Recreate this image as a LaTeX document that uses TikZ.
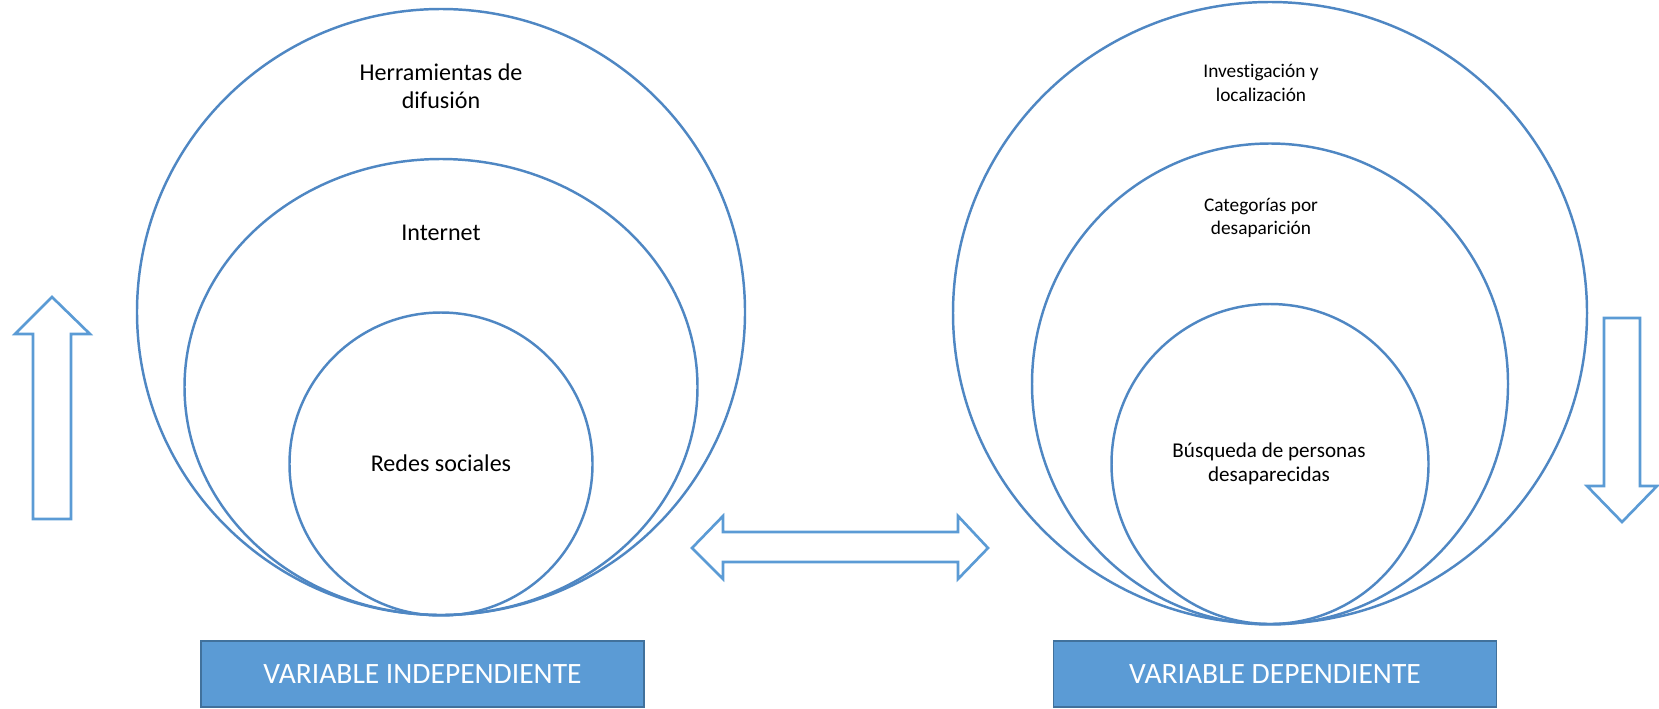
\documentclass[tikz,border=0pt]{standalone}
\usepackage{fontspec}
\setmainfont{Carlito}[Ligatures=NoCommon]
\usetikzlibrary{positioning}
\definecolor{ringblue}{HTML}{4F87C3}
\definecolor{arrowblue}{HTML}{5B9BD5}
\definecolor{boxfill}{HTML}{5B9BD5}
\definecolor{boxline}{HTML}{41719C}
\tikzset{ring/.style={draw=ringblue,line width=1.4pt},
         blockarrow/.style={draw=arrowblue,line width=1.5pt,line join=miter},
         caption/.style={align=center,font=\fontsize{13.7}{16}\selectfont,inner sep=0pt},
         smallcaption/.style={caption,font=\fontsize{11}{13.3}\selectfont},
         varbox/.style={draw=boxline,line width=1pt,fill=boxfill,text=white,
                        minimum width=443*0.02cm,minimum height=66*0.02cm,
                        font=\fontsize{16.8}{19}\selectfont},
        }

\begin{document}
\begin{tikzpicture}[x=0.02cm,y=-0.02cm]
        \useasboundingbox (0,0) rectangle (1659,708);

        \draw[ring](441,312) ellipse [x radius=304, y radius=303];
        \draw[ring](441,387) ellipse [x radius=256.5, y radius=228];
        \draw[ring](441,464) ellipse [x radius=151.5, y radius=151.5];
        \draw[ring](1270,313) ellipse [x radius=317, y radius=311];
        \draw[ring](1270,384) ellipse [x radius=238, y radius=240.5];
        \draw[ring](1270,464) ellipse [x radius=158.5, y radius=160];

        \node[caption](herr)at(441,86){Herramientas de\\difusión};
        \node[caption](inter)at(441,233){Internet};
        \node[caption](redes)at(441,463){Redes sociales};
        \node[smallcaption](invest)at(1261,83){Investigación y\\localización};
        \node[smallcaption](categ)at(1261,218){Categorías por\\desaparición};
        \node[smallcaption,font=\fontsize{12}{13.6}\selectfont](busq)at(1269,464){Búsqueda de personas\\desaparecidas};

        \draw[blockarrow](52,297)--(90,334)--(71,334)--(71,519)--(33,519)--(33,334)--(15,334)--cycle;
        \draw[blockarrow](1604,318)--(1640,318)--(1640,486)--(1657,486)--(1622,522)--(1587,486)--(1604,486)--cycle;
        \draw[blockarrow](692,548)--(723,516)--(723,532)--(958,532)--(958,516)--(988,548)
                         --(958,579)--(958,562)--(723,562)--(723,579)--cycle;

        \node[varbox](varind)at(422.5,674){VARIABLE INDEPENDIENTE};
        \node[varbox](vardep)at(1275,674){VARIABLE DEPENDIENTE};
    \end{tikzpicture}
\end{document}
